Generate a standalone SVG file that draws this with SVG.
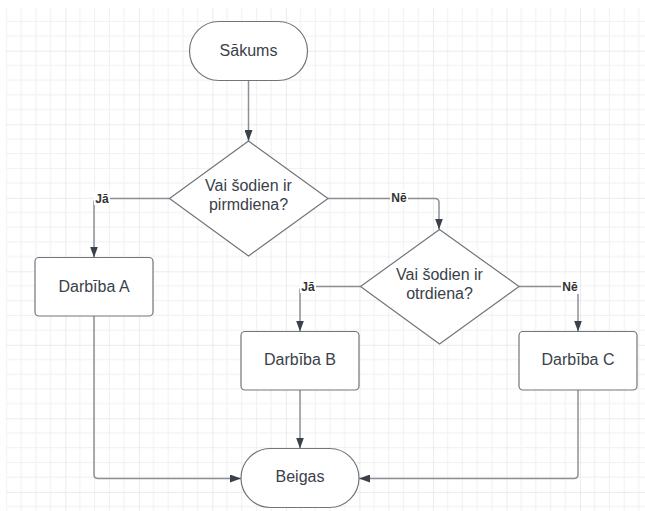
<svg xmlns="http://www.w3.org/2000/svg" width="645" height="511" viewBox="0 0 645 511">
  <defs>
    <pattern id="grid" patternUnits="userSpaceOnUse" x="65.3" y="50.7" width="73.53" height="73.53">
      <g fill="#f0f0f0">
        <rect x="14.2" y="0" width="1" height="73.53"/>
        <rect x="28.9" y="0" width="1" height="73.53"/>
        <rect x="43.6" y="0" width="1" height="73.53"/>
        <rect x="58.3" y="0" width="1" height="73.53"/>
        <rect x="0" y="14.2" width="73.53" height="1"/>
        <rect x="0" y="28.9" width="73.53" height="1"/>
        <rect x="0" y="43.6" width="73.53" height="1"/>
        <rect x="0" y="58.3" width="73.53" height="1"/>
      </g>
      <g fill="#e3e3e3">
        <rect x="-0.7" y="0" width="1.4" height="73.53"/>
        <rect x="0" y="-0.7" width="73.53" height="1.4"/>
      </g>
    </pattern>
    <marker id="arr" markerUnits="userSpaceOnUse" markerWidth="11" markerHeight="8" refX="11" refY="4" orient="auto">
      <path d="M0,0 L11,4 L0,8 Z" fill="#3a414a"/>
    </marker>
    <style>
      .node { fill: #ffffff; stroke: #70757c; stroke-width: 1.2; }
      .t { font-family: "Liberation Sans", Arial, sans-serif; font-size: 16px; fill: #3a414a; text-anchor: middle; }
      .lbl { font-family: "Liberation Sans", Arial, sans-serif; font-size: 12px; font-weight: bold; fill: #333333; text-anchor: middle; }
      .edge { fill: none; stroke: #8c9096; stroke-width: 1.5; marker-end: url(#arr); }
      .lblbg { fill: #ffffff; }
    </style>
  </defs>

  <rect x="0" y="0" width="645" height="511" fill="#ffffff"/>
  <rect x="6" y="8" width="639" height="503" fill="url(#grid)"/>

  <g id="connectors">
    <path class="edge" d="M248.5,80.5 V141"/>
    <path class="edge" d="M169.5,198.5 H98 Q94,198.5 94,202.5 V257.5"/>
    <path class="edge" d="M328,198.5 H435 Q439,198.5 439,202.5 V229.5"/>
    <path class="edge" d="M360.5,286.5 H304 Q300,286.5 300,290.5 V331.5"/>
    <path class="edge" d="M519,286.5 H574 Q578,286.5 578,290.5 V331.5"/>
    <path class="edge" d="M94,316 V474.5 Q94,478.5 98,478.5 H241"/>
    <path class="edge" d="M300,390 V448.5"/>
    <path class="edge" d="M578,390 V474.5 Q578,478.5 574,478.5 H359"/>
    <g id="labels">
      <rect class="lblbg" x="94" y="191" width="16" height="14"/>
      <text class="lbl" x="102" y="202.5">Jā</text>
      <rect class="lblbg" x="390" y="190" width="18" height="14"/>
      <text class="lbl" x="399" y="201.5">Nē</text>
      <rect class="lblbg" x="300" y="279" width="16" height="14"/>
      <text class="lbl" x="308" y="290.5">Jā</text>
      <rect class="lblbg" x="561" y="279" width="18" height="15"/>
      <text class="lbl" x="570" y="290.5">Nē</text>
    </g>
  </g>

  <g id="start">
    <rect class="node" x="189.5" y="21.5" width="118" height="59" rx="29.5" ry="29.5"/>
    <text class="t" x="248.5" y="55.5">Sākums</text>
  </g>

  <g id="decision1">
    <polygon class="node" points="248.5,141 328,198.5 248.5,256 169.5,198.5"/>
    <text class="t" x="248.5" y="191">Vai šodien ir</text>
    <text class="t" x="248.5" y="210">pirmdiena?</text>
  </g>

  <g id="actionA">
    <rect class="node" x="35" y="257.5" width="118" height="58.5" rx="4" ry="4"/>
    <text class="t" x="94" y="291.5">Darbība A</text>
  </g>

  <g id="decision2">
    <polygon class="node" points="439.5,229.5 519,286.5 439.5,344 360.5,286.5"/>
    <text class="t" x="439.5" y="279.5">Vai šodien ir</text>
    <text class="t" x="439.5" y="298.5">otrdiena?</text>
  </g>

  <g id="actionB">
    <rect class="node" x="241" y="331.5" width="118" height="58.5" rx="4" ry="4"/>
    <text class="t" x="300" y="365">Darbība B</text>
  </g>

  <g id="actionC">
    <rect class="node" x="519" y="331.5" width="118" height="58.5" rx="4" ry="4"/>
    <text class="t" x="578" y="365">Darbība C</text>
  </g>

  <g id="end">
    <rect class="node" x="241" y="448.5" width="118" height="59" rx="29.5" ry="29.5"/>
    <text class="t" x="300" y="482">Beigas</text>
  </g>
</svg>
